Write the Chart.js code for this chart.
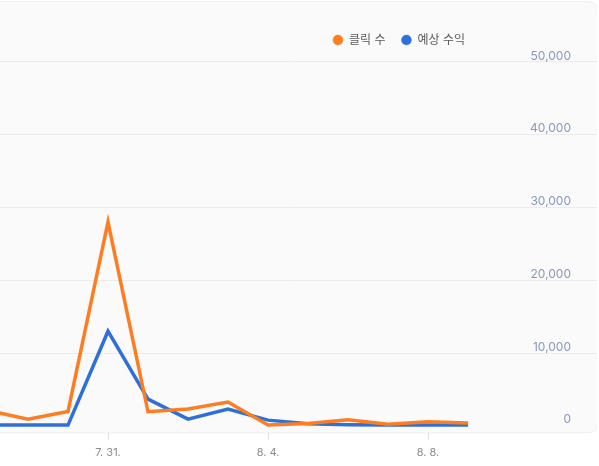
<!DOCTYPE html>
<html>
<head>
<meta charset="utf-8">
<script src="https://cdn.jsdelivr.net/npm/chart.js@4"></script>
<style>
  html, body { margin: 0; padding: 0; background: #ffffff; overflow: hidden; width: 599px; height: 466px; }
  #wrap { position: relative; width: 599px; height: 466px; overflow: hidden; }
  #c { position: absolute; left: -12px; top: 0; }
</style>
</head>
<body>
<div id="wrap"><canvas id="c" width="609" height="466"></canvas></div>
<script>
const dates = ['7. 28.', '7. 29.', '7. 30.', '7. 31.', '8. 1.', '8. 2.', '8. 3.', '8. 4.', '8. 5.', '8. 6.', '8. 7.', '8. 8.', '8. 9.'];
const clicks = [2100, 920, 1970, 28000, 1930, 2300, 3260, 100, 320, 820, 230, 550, 370];
const revenue = [100, 100, 100, 13000, 3670, 920, 2300, 780, 270, 150, 120, 120, 120];
const seriesNames = ['클릭 수', '예상 수익'];
const xTickLabels = ['7. 31.', '8. 4.', '8. 8.'];
const yTickValues = [0, 10000, 20000, 30000, 40000, 50000];

const ORANGE = '#fd7e22';
const BLUE = '#2f70d8';
const FONT = "Inter, 'Noto Sans CJK KR', sans-serif";

const cardPlugin = {
  id: 'card',
  beforeDraw(chart) {
    const {ctx, chartArea} = chart;
    const left = -30, top = 1.5, right = chartArea.right + 0.5, bottom = chartArea.bottom;
    const r = 10;
    ctx.save();
    ctx.beginPath();
    ctx.moveTo(left, top);
    ctx.lineTo(right - r, top);
    ctx.quadraticCurveTo(right, top, right, top + r);
    ctx.lineTo(right, bottom - r);
    ctx.quadraticCurveTo(right, bottom, right - r, bottom);
    ctx.lineTo(left, bottom);
    ctx.closePath();
    ctx.fillStyle = '#fafafa';
    ctx.fill();
    ctx.strokeStyle = '#eeeeee';
    ctx.lineWidth = 1;
    ctx.stroke();
    ctx.restore();
  }
};

const legendPlace = {
  id: 'legendPlace',
  afterLayout(chart) {
    const lg = chart.legend;
    if (lg) {
      lg.right = 477 + lg.options.labels.padding;
    }
  }
};

new Chart(document.getElementById('c'), {
  type: 'line',
  data: {
    datasets: [
      {
        label: seriesNames[0],
        data: dates.map((d, i) => ({x: i, y: clicks[i]})),
        borderColor: ORANGE,
        backgroundColor: ORANGE,
        borderWidth: 3.5,
        pointRadius: 0,
        tension: 0
      },
      {
        label: seriesNames[1],
        data: dates.map((d, i) => ({x: i, y: revenue[i]})),
        borderColor: BLUE,
        backgroundColor: BLUE,
        borderWidth: 3.5,
        pointRadius: 0,
        tension: 0
      }
    ]
  },
  options: {
    responsive: false,
    animation: false,
    layout: { padding: { top: 18, bottom: 1, left: 0, right: 0 } },
    plugins: {
      tooltip: { enabled: false },
      legend: {
        position: 'top',
        align: 'end',
        labels: {
          usePointStyle: true,
          pointStyle: 'circle',
          boxWidth: 10,
          boxHeight: 7,
          padding: 16,
          color: '#5a5a5a',
          font: { family: FONT, size: 12 },
          generateLabels(chart) {
            const items = Chart.defaults.plugins.legend.labels.generateLabels(chart);
            items.forEach(it => { it.lineWidth = 0.5; it.fillStyle = it.strokeStyle; });
            return items;
          }
        }
      }
    },
    scales: {
      x: {
        type: 'linear',
        min: 0,
        max: 15.225,
        border: { display: false },
        grid: { drawOnChartArea: false, drawTicks: true, tickLength: 7, color: '#dddddd' },
        afterBuildTicks(scale) {
          scale.ticks = dates.map((d, i) => ({value: i})).filter(t => xTickLabels.includes(dates[t.value]));
        },
        ticks: {
          padding: 6,
          color: '#8a8a8a',
          font: { family: FONT, size: 11 },
          maxRotation: 0,
          autoSkip: false,
          callback: (v) => dates[v]
        }
      },
      y: {
        type: 'linear',
        position: 'right',
        min: -962,
        max: 50824,
        border: { display: false },
        grid: {
          drawTicks: true,
          tickLength: 52,
          tickColor: 'rgba(0,0,0,0)',
          color: (ctx) => (ctx.tick && ctx.tick.value === 0) ? 'rgba(0,0,0,0)' : '#ebebeb'
        },
        afterBuildTicks(scale) {
          scale.ticks = yTickValues.map(v => ({value: v}));
        },
        ticks: {
          mirror: true,
          padding: -26,
          labelOffset: -6,
          color: '#8898bc',
          font: { family: FONT, size: 12 },
          callback: (v) => v.toLocaleString('en-US')
        }
      }
    }
  },
  plugins: [cardPlugin, legendPlace]
});
</script>
</body>
</html>
